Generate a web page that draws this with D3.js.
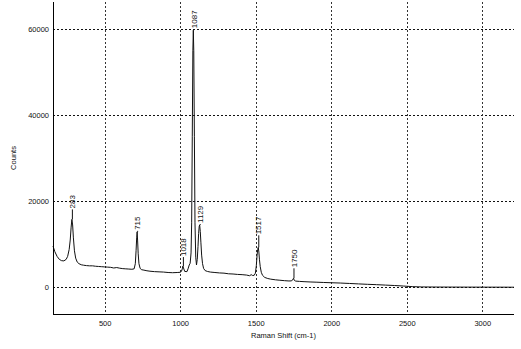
<!DOCTYPE html>
<html>
<head>
<meta charset="utf-8">
<script src="https://cdn.jsdelivr.net/npm/d3@7"></script>
<style>
  html, body { margin: 0; padding: 0; background: #fff; }
  text { font-family: "Liberation Sans", Arial, sans-serif; }
</style>
</head>
<body>
<svg id="chart" width="521" height="349"></svg>
<script>
// Raman shift (cm-1) and counts
const shift = [158,170,185,200,215,230,245,255,265,272,278,283,288,293,300,308,318,330,345,360,380,400,420,440,460,480,500,520,540,560,580,600,620,640,660,680,695,703,708,712,715,718,722,727,735,745,760,780,800,830,860,890,920,950,980,1000,1008,1014,1018,1022,1030,1045,1052,1060,1066,1072,1076,1080,1084,1087,1090,1094,1098,1103,1108,1113,1118,1122,1126,1129,1133,1137,1142,1148,1155,1165,1180,1200,1230,1260,1290,1320,1350,1380,1410,1440,1460,1470,1480,1490,1498,1504,1509,1513,1517,1521,1525,1530,1537,1545,1560,1580,1600,1630,1660,1690,1720,1735,1743,1750,1756,1765,1790,1820,1860,1900,1950,2000,2060,2120,2180,2240,2300,2360,2420,2480,2540,2600,2700,2800,2900,3000,3100,3210];
const counts = [9600,8300,7200,6500,6200,6150,6500,7200,8800,11000,14000,15800,14500,11500,8500,6800,5900,5500,5250,5150,5050,5000,5000,4900,4850,4800,4750,4700,4650,4500,4600,4450,4350,4300,4250,4200,4300,5500,8500,11500,12900,11000,7800,5500,4400,4100,4000,3850,3750,3650,3600,3550,3450,3400,3450,3500,3700,4300,4950,4500,3700,3650,4300,5200,5600,8000,15000,35000,55000,59800,55000,35000,15000,7000,5200,6500,9500,12500,14200,14500,13000,10500,7500,5500,4400,3900,3700,3550,3450,3350,3300,3150,3100,3000,2950,2850,2700,2950,2750,2800,3300,5000,7400,8800,9300,8200,6400,4800,3500,2800,2300,2050,1900,1750,1650,1550,1480,1500,1650,2100,1600,1450,1380,1320,1250,1200,1130,1070,1000,900,800,700,620,520,420,300,160,90,70,60,50,45,40,30];

// tick labels
const xTicks = [500, 1000, 1500, 2000, 2500, 3000];
const yTicks = [0, 20000, 40000, 60000];

// labelled peaks
const peakShift = [283, 715, 1018, 1087, 1129, 1517, 1750];
const peakLabel = ["283", "715", "1018", "1087", "1129", "1517", "1750"];
const peakLead  = [10, 1, 9, 1, 1, 12, 10];   // leader line length in px (style)

const xTitle = "Raman Shift (cm-1)";
const yTitle = "Counts";

const svg = d3.select("#chart");
const L = 53, R = 514, T = 2, B = 314;

const x = d3.scaleLinear().domain([158, 3210]).range([L, R]);
const y = d3.scaleLinear().domain([-6200, 66350]).range([B, T]);

// background
svg.append("rect").attr("width", 521).attr("height", 349).attr("fill", "#fff");

// gridlines
const grid = svg.append("g").attr("shape-rendering", "crispEdges");
grid.selectAll("line.hg").data(yTicks).enter().append("line")
  .attr("x1", L).attr("x2", R)
  .attr("y1", d => Math.round(y(d)) + 0.5).attr("y2", d => Math.round(y(d)) + 0.5)
  .attr("stroke", "#111").attr("stroke-width", 1).attr("stroke-dasharray", "2,2");
grid.selectAll("line.vg").data(xTicks).enter().append("line")
  .attr("y1", T).attr("y2", B)
  .attr("x1", d => Math.round(x(d)) + 0.5).attr("x2", d => Math.round(x(d)) + 0.5)
  .attr("stroke", "#333").attr("stroke-width", 1).attr("stroke-dasharray", "2,2");

// spectrum line
const pts = shift.map((s, i) => [s, counts[i]]);
svg.append("path")
  .datum(pts)
  .attr("fill", "none")
  .attr("stroke", "#111")
  .attr("stroke-width", 1)
  .attr("stroke-linejoin", "round")
  .attr("d", d3.line().x(d => x(d[0])).y(d => y(d[1])));

// axes
const xAxis = d3.axisBottom(x).tickValues(xTicks).tickSize(0).tickPadding(7).tickFormat(d3.format("d"));
const gx = svg.append("g").attr("transform", `translate(0,${B})`).call(xAxis);
gx.select(".domain").attr("stroke", "#000").attr("d", `M${L},0.5H${R}`);
gx.selectAll("text").attr("font-size", "7.5px").attr("fill", "#111")
  .attr("font-family", "Liberation Sans, Arial, sans-serif");

const yAxis = d3.axisLeft(y).tickValues(yTicks).tickSize(0).tickPadding(4).tickFormat(d3.format("d"));
const gy = svg.append("g").attr("transform", `translate(${L},0)`).call(yAxis);
gy.select(".domain").attr("stroke", "#000").attr("d", `M0.5,${T}V${B}`);
gy.selectAll("text").attr("font-size", "7.5px").attr("fill", "#111")
  .attr("font-family", "Liberation Sans, Arial, sans-serif");

// axis titles
svg.append("text").attr("x", (L + R) / 2).attr("y", 338)
  .attr("text-anchor", "middle").attr("font-size", "7.5px").attr("fill", "#111")
  .text(xTitle);
svg.append("text").attr("transform", `translate(16,${(T + B) / 2}) rotate(-90)`)
  .attr("text-anchor", "middle").attr("font-size", "7.5px").attr("fill", "#111")
  .text(yTitle);

// peak labels
const peaks = peakShift.map((s, i) => {
  // peak height from data: max of counts near this shift
  let best = 0;
  shift.forEach((v, j) => { if (Math.abs(v - s) <= 6 && counts[j] > best) best = counts[j]; });
  return { s, v: best, label: peakLabel[i], lead: peakLead[i] };
});
const pg = svg.append("g");
pg.selectAll("line").data(peaks).enter().append("line")
  .attr("x1", d => x(d.s) + 0.5).attr("x2", d => x(d.s) + 0.5)
  .attr("y1", d => y(d.v)).attr("y2", d => y(d.v) - d.lead)
  .attr("stroke", "#111").attr("stroke-width", 1);
pg.selectAll("text").data(peaks).enter().append("text")
  .attr("transform", d => `translate(${x(d.s) + 3.2},${y(d.v) - d.lead - 1}) rotate(-90)`)
  .attr("text-anchor", "start").attr("font-size", "8px").attr("fill", "#111")
  .text(d => d.label);
</script>
</body>
</html>
